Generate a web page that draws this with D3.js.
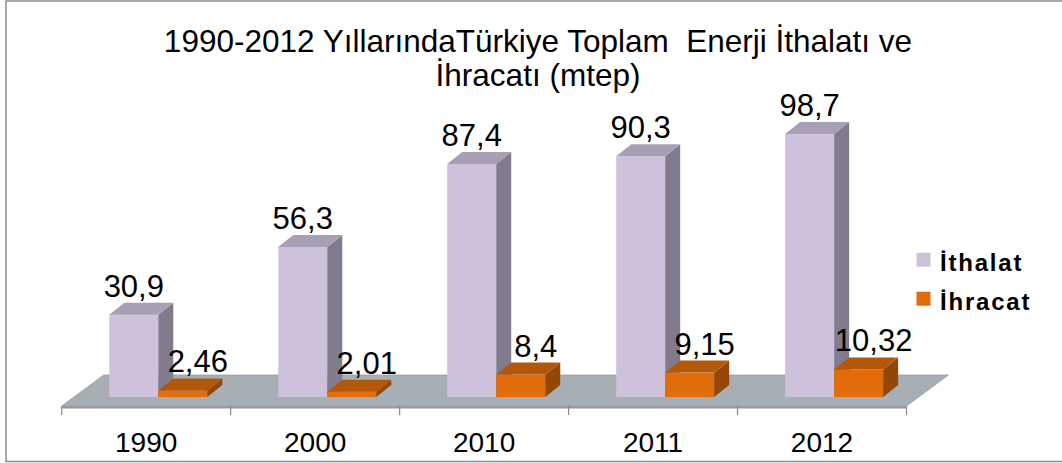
<!DOCTYPE html>
<html lang="tr">
<head>
  <meta charset="UTF-8">
  <title>Türkiye Enerji İthalatı ve İhracatı</title>
  <script src="https://d3js.org/d3.v7.min.js"></script>
  <style>
    html, body { margin: 0; padding: 0; background: #fff; }
    text { font-family: "Liberation Sans", Arial, sans-serif; fill: #000; }
  </style>
</head>
<body>
  <div class="chart"></div>

  <script>
    // data
    const years = ["1990", "2000", "2010", "2011", "2012"];
    const ithalat = [30.9, 56.3, 87.4, 90.3, 98.7];
    const ihracat = [2.46, 2.01, 8.4, 9.15, 10.32];
    const seriesNames = ["İthalat", "İhracat"];
    const titleLines = ["1990-2012 YıllarındaTürkiye Toplam  Enerji İthalatı ve", "İhracatı (mtep)"];

    const width = 1062, height = 463;
    const colors = {
      "İthalat": { front: "#cdc1db", top: "#a79fb4", side: "#817b8d" },
      "İhracat": { front: "#e36c0a", top: "#b3570b", side: "#954707" }
    };
    const depthX = 15, depthY = 12;        // bar depth
    const floorDX = 42, floorDY = 31;      // floor depth
    const floorFront = 406, barBase = 397;

    const svg = d3.select(".chart").append("svg")
      .attr("width", width)
      .attr("height", height);

    // outer border (right side is cut off in the picture)
    svg.append("rect")
      .attr("x", 6).attr("y", 1)
      .attr("width", width + 10).attr("height", 460.5)
      .attr("fill", "none")
      .attr("stroke", "#8c8c8c")
      .attr("stroke-width", 1.5);

    const x = d3.scaleBand().domain(years).range([61.7, 906.5]);
    const xs = d3.scaleBand().domain(seriesNames).range([47.6, 145.6]);
    const y = d3.scaleLinear().domain([0, 100]).range([barBase, barBase - 266.5]);

    // floor
    const [fx0, fx1] = x.range();
    svg.append("path")
      .attr("d", `M${fx0},${floorFront}L${fx1},${floorFront}L${fx1 + floorDX},${floorFront - floorDY}L${fx0 + floorDX},${floorFront - floorDY}Z`)
      .attr("fill", "#a7afb5")
      .attr("stroke", "#979ea3")
      .attr("stroke-width", 0.8);
    svg.append("rect")
      .attr("x", fx0).attr("y", floorFront)
      .attr("width", fx1 - fx0).attr("height", 2.5)
      .attr("fill", "#959b9f");

    // category axis
    const axis = svg.append("g")
      .attr("transform", `translate(0,${floorFront})`)
      .call(d3.axisBottom(x).tickSize(0).tickPadding(0));
    axis.select(".domain").remove();
    axis.selectAll(".tick text").remove();
    const tickXs = years.map(d => x(d)).concat([fx1]);
    axis.selectAll(".sep").data(tickXs).join("line")
      .attr("class", "sep")
      .attr("x1", d => d).attr("x2", d => d)
      .attr("y1", 0).attr("y2", 9)
      .attr("stroke", "#8a8a8a")
      .attr("stroke-width", 1.2);
    axis.selectAll(".cat").data(years).join("text")
      .attr("class", "cat")
      .attr("x", d => x(d) + x.bandwidth() / 2)
      .attr("y", 46)
      .attr("text-anchor", "middle")
      .style("font-size", "28px")
      .text(d => d);

    // bars
    const rows = [];
    years.forEach((yr, i) => {
      rows.push({ year: yr, name: "İthalat", value: ithalat[i] });
      rows.push({ year: yr, name: "İhracat", value: ihracat[i] });
    });

    const bars = svg.append("g").selectAll("g").data(rows).join("g");
    bars.each(function (d) {
      const g = d3.select(this);
      const x0 = x(d.year) + xs(d.name), w = xs.bandwidth();
      const y0 = y(d.value), c = colors[d.name];
      g.append("rect")
        .attr("x", x0).attr("y", y0)
        .attr("width", w).attr("height", barBase - y0)
        .attr("fill", c.front);
      g.append("path")
        .attr("d", `M${x0 + w},${y0}L${x0 + w + depthX},${y0 - depthY}L${x0 + w + depthX},${barBase - depthY}L${x0 + w},${barBase}Z`)
        .attr("fill", c.side);
      g.append("path")
        .attr("d", `M${x0},${y0}L${x0 + depthX},${y0 - depthY}L${x0 + w + depthX},${y0 - depthY}L${x0 + w},${y0}Z`)
        .attr("fill", c.top);
    });

    // value labels
    svg.append("g").selectAll("text").data(rows).join("text")
      .attr("x", d => x(d.year) + xs(d.name) + xs.bandwidth() / 2 + (d.name === "İhracat" ? depthX : 0))
      .attr("y", d => y(d.value) - depthY - 6)
      .attr("text-anchor", "middle")
      .style("font-size", "31px")
      .text(d => String(d.value).replace(".", ","));

    // title
    svg.append("g").selectAll("text").data(titleLines).join("text")
      .attr("x", 538)
      .attr("y", (d, i) => 51.7 + i * 34.5)
      .attr("text-anchor", "middle")
      .style("font-size", "31.5px")
      .style("white-space", "pre")
      .text(d => d);

    // legend
    const legend = svg.append("g").attr("transform", "translate(916.5,252.7)");
    const items = legend.selectAll("g").data(seriesNames).join("g")
      .attr("transform", (d, i) => `translate(0,${i * 39})`);
    items.append("rect")
      .attr("width", 14).attr("height", 14)
      .attr("fill", d => colors[d].front);
    items.append("text")
      .attr("x", 23.5).attr("y", 18)
      .style("font-size", "24px")
      .style("font-weight", "bold")
      .style("letter-spacing", "1.8px")
      .text(d => d);
  </script>
</body>
</html>
